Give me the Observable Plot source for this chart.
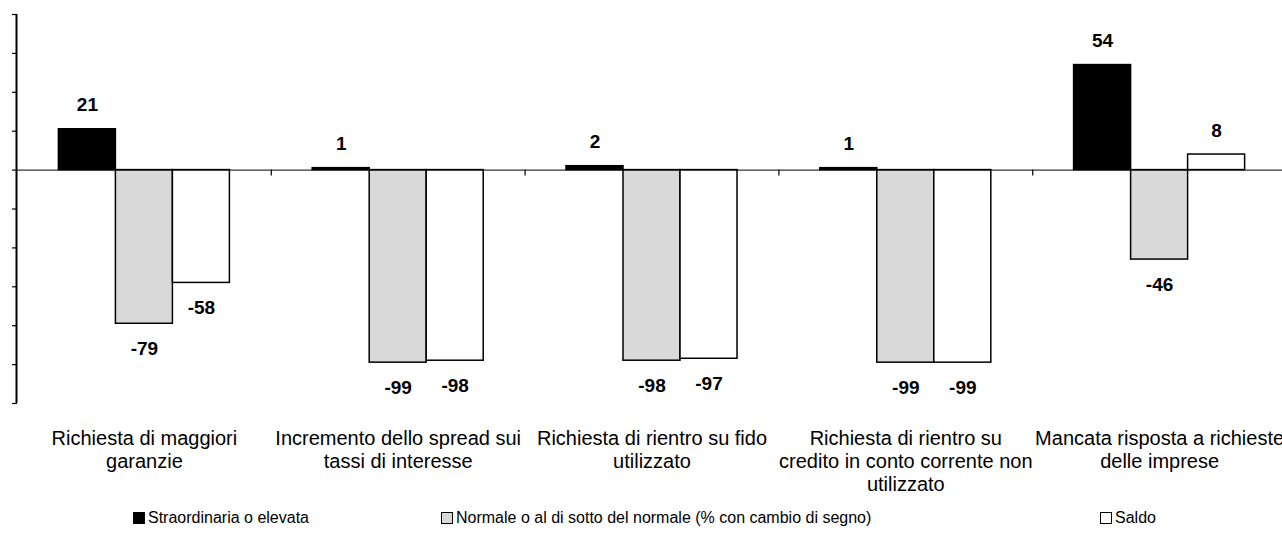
<!DOCTYPE html>
<html>
<head>
<meta charset="utf-8">
<script src="https://cdn.jsdelivr.net/npm/d3@7"></script>
<script src="https://cdn.jsdelivr.net/npm/@observablehq/plot@0.6"></script>
<style>
  html, body { margin: 0; padding: 0; background: #fff; overflow: hidden; }
  #wrap { position: relative; width: 1282px; height: 557px; font-family: "Liberation Sans", Arial, sans-serif; }
  #chart svg { display: block; }
  .leg { position: absolute; top: 509px; font-size: 16px; color: #000; display: flex; align-items: center; white-space: nowrap; }
  .sw { width: 10px; height: 10px; border: 1px solid #000; margin-right: 3px; box-sizing: content-box; }
</style>
</head>
<body>
<div id="wrap">
  <div id="chart"></div>
  <div id="legend"></div>
</div>
<script>
// ---- data ----
const series = [
  "Straordinaria o elevata",
  "Normale o al di sotto del normale (% con cambio di segno)",
  "Saldo"
];
const categories = [
  "Richiesta di maggiori garanzie",
  "Incremento dello spread sui tassi di interesse",
  "Richiesta di rientro su fido utilizzato",
  "Richiesta di rientro su credito in conto corrente non utilizzato",
  "Mancata risposta a richieste delle imprese"
];
const categoryLabels = [
  "Richiesta di maggiori\ngaranzie",
  "Incremento dello spread sui\ntassi di interesse",
  "Richiesta di rientro su fido\nutilizzato",
  "Richiesta di rientro su\ncredito in conto corrente non\nutilizzato",
  "Mancata risposta a richieste\ndelle imprese"
];
const elevata = [21, 1, 2, 1, 54];
const normale = [-79, -99, -98, -99, -46];
const saldo = [-58, -98, -97, -99, 8];
const yTicks = [-120, -100, -80, -60, -40, -20, 0, 20, 40, 60, 80];
const seriesColors = ["#000000", "#d9d9d9", "#ffffff"];

// ---- table ----
const valuesBySeries = [elevata, normale, saldo];
const data = [];
categories.forEach((c, i) => {
  series.forEach((s, j) => data.push({cat: c, s, v: valuesBySeries[j][i]}));
});

// ---- layout ----
const W = 1282, H = 500, ML = 17, MR = -4, MT = 14, MB = 97;
const PO = 0.726;
const fw = (W - ML - MR) / categories.length;
const step = fw / (series.length + 2 * PO);
const edgeDx = -(PO + 0.5) * step;

const chart = Plot.plot({
  width: W,
  height: H,
  marginLeft: ML,
  marginRight: MR,
  marginTop: MT,
  marginBottom: MB,
  style: {fontFamily: "'Liberation Sans', Arial, sans-serif", background: "#fff", overflow: "hidden"},
  fx: {domain: categories, padding: 0, label: null, axis: null, round: false},
  x: {domain: series, paddingInner: 0, paddingOuter: PO, axis: null, round: false},
  y: {domain: [yTicks[0], yTicks[yTicks.length - 1]], axis: null},
  color: {domain: series, range: seriesColors},
  marks: [
    Plot.barY(data, {fx: "cat", x: "s", y: "v", fill: "s", stroke: "#000", strokeWidth: 1.5}),
    Plot.ruleY([0], {stroke: "#000", strokeWidth: 1}),
    // y axis line on the first facet
    Plot.ruleX([{cat: categories[0], s: series[0]}], {fx: "cat", x: "s", dx: edgeDx - 1, y1: yTicks[0], y2: yTicks[yTicks.length - 1], stroke: "#000", strokeWidth: 2}),
    Plot.axisY({ticks: yTicks, tickSize: 5, tickFormat: () => "", label: null, stroke: "#000", strokeWidth: 1.2}),
    // category separator ticks
    Plot.ruleX(categories.slice(1).map(c => ({cat: c, s: series[0]})), {fx: "cat", x: "s", dx: edgeDx, y1: 0, y2: -3, stroke: "#000", strokeWidth: 1.2}),
    // value labels
    Plot.text(data.filter(d => d.v >= 0), {fx: "cat", x: "s", y: "v", text: d => String(d.v), dy: -24, fontSize: 19, fontWeight: "bold", fill: "#000"}),
    Plot.text(data.filter(d => d.v < 0), {fx: "cat", x: "s", y: "v", text: d => String(d.v), dy: 25, fontSize: 19, fontWeight: "bold", fill: "#000"}),
    Plot.axisFx({anchor: "bottom", tickSize: 0, tickPadding: 25, label: null, fontSize: 20, lineHeight: 1.15, tickFormat: d => categoryLabels[categories.indexOf(d)]})
  ]
});
document.getElementById("chart").appendChild(chart);

// ---- legend ----
const legendLeft = [133, 441, 1100];
const legend = document.getElementById("legend");
series.forEach((s, j) => {
  const item = document.createElement("div");
  item.className = "leg";
  item.style.left = legendLeft[j] + "px";
  const sw = document.createElement("span");
  sw.className = "sw";
  sw.style.background = seriesColors[j];
  const t = document.createElement("span");
  t.textContent = s;
  item.appendChild(sw);
  item.appendChild(t);
  legend.appendChild(item);
});
</script>
</body>
</html>
